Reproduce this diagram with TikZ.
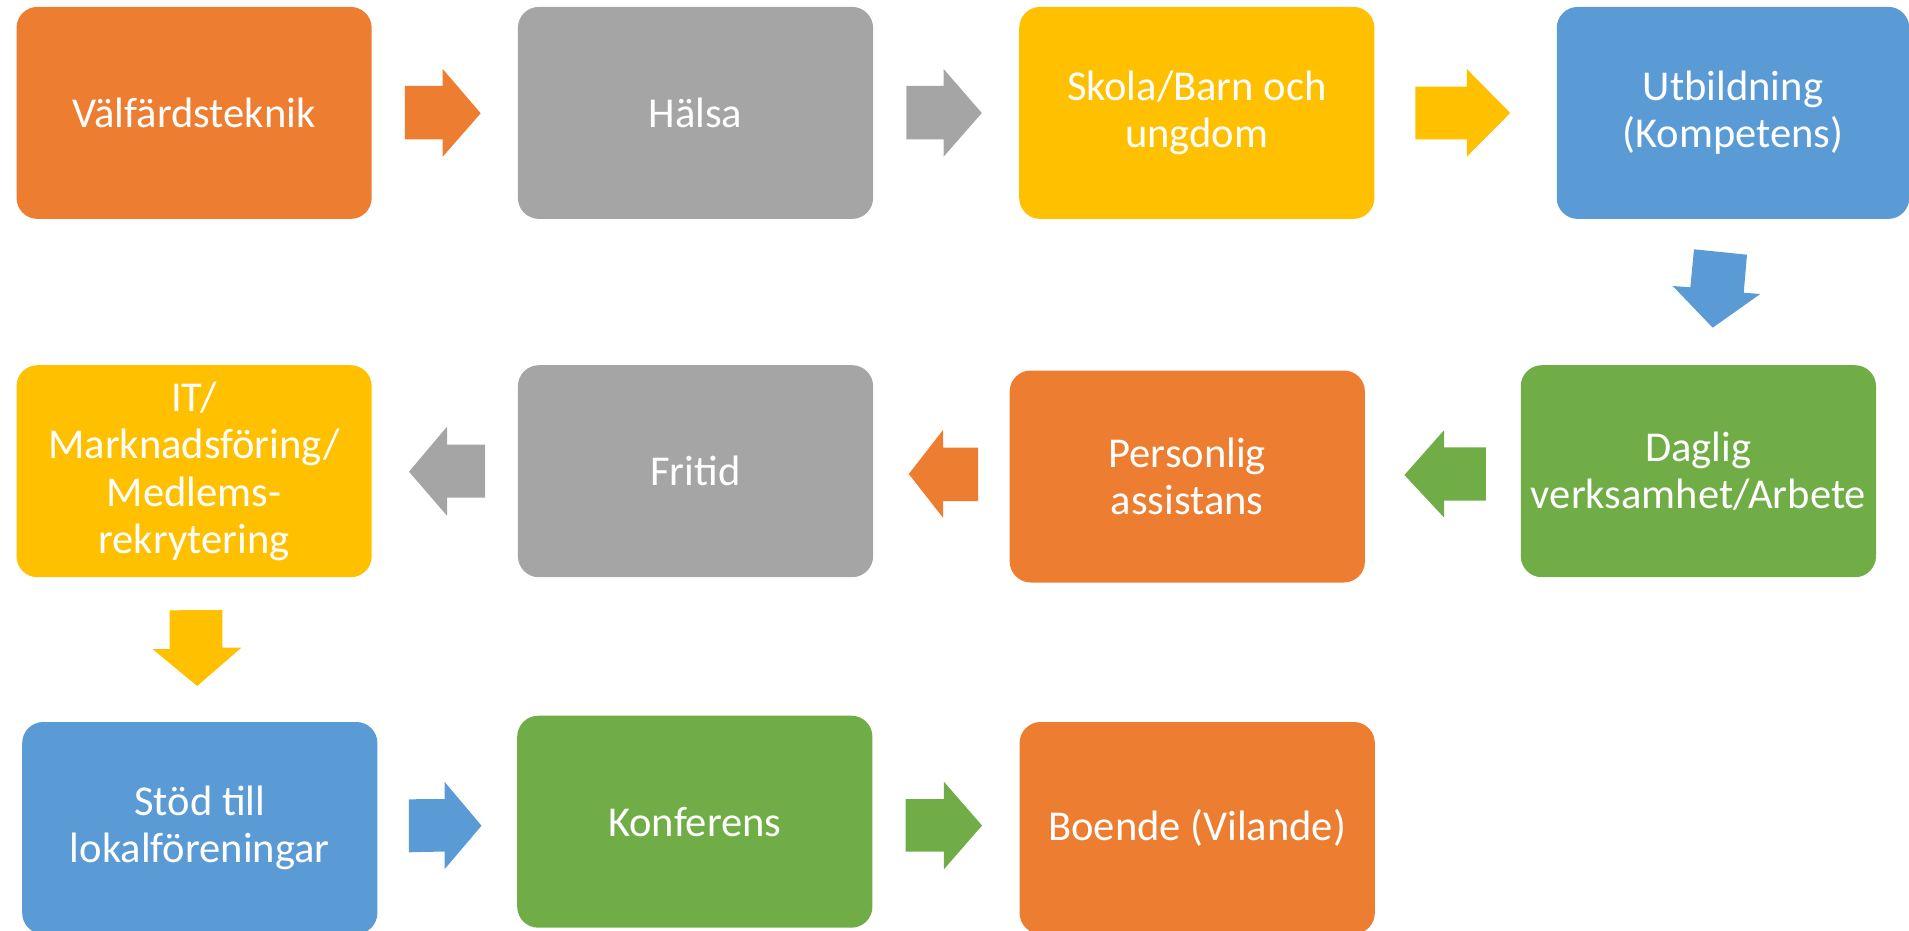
\documentclass[tikz,border=0pt]{standalone}
\usepackage{fontspec}
\setmainfont{Carlito}
\definecolor{cOrange}{HTML}{ED7D31}
\definecolor{cGray}{HTML}{A5A5A5}
\definecolor{cYellow}{HTML}{FFC000}
\definecolor{cBlue}{HTML}{5B9BD5}
\definecolor{cGreen}{HTML}{70AD47}
\tikzset{
  box/.style={rectangle, rounded corners=15.75pt, draw=none, text=white,
    minimum width=266.4pt, minimum height=159pt, inner sep=2pt, align=center,
    font=\fontsize{31.9pt}{35.6pt}\selectfont},
  blockarrow/.style={draw=none}
}
\begin{document}
\begin{tikzpicture}[x=0.75pt, y=-0.75pt]
\useasboundingbox (0,0) rectangle (1909,931);
\clip (0,0) rectangle (1909,931);
% boxes
\node[box, fill=cOrange] (b1) at (194.1,112.9) {Välfärdsteknik};
\node[box, fill=cGray]   (b2) at (695.5,112.9) {Hälsa};
\node[box, fill=cYellow] (b3) at (1196.8,112.9) {Skola/Barn och\\ungdom};
\node[box, fill=cBlue, minimum width=264.4pt] (b4) at (1733,112.9) {Utbildning\\(Kompetens)};
\node[box, fill=cGreen]  (b5) at (1698.4,471.2) {Daglig\\verksamhet/Arbete};
\node[box, fill=cOrange] (b6) at (1187.3,476.5) {Personlig\\assistans};
\node[box, fill=cGray]   (b7) at (695.5,471.2) {Fritid};
\node[box, fill=cYellow] (b8) at (194.1,471.2) {IT/\\Marknadsföring/\\Medlems-\\rekrytering};
\node[box, fill=cBlue]   (b9) at (199.8,828) {Stöd till\\lokalföreningar};
\node[box, fill=cGreen]  (b10) at (694.8,821.7) {Konferens};
\node[box, fill=cOrange] (b11) at (1197.2,828) {Boende (Vilande)};
% block arrows
\fill[cOrange] (404.8,86) -- (442.7,86) -- (442.7,69) -- (480.7,113.3) -- (442.7,156.7) -- (442.7,139.3) -- (404.8,139.3) -- cycle;
\fill[cGray] (906.3,86) -- (943.6,86) -- (943.6,69) -- (981.8,113) -- (943.6,156.7) -- (943.6,139.3) -- (906.3,139.3) -- cycle;
\fill[cYellow] (1415.4,86.7) -- (1466.8,86.7) -- (1466.8,69) -- (1510.2,113) -- (1466.8,156.7) -- (1466.8,139.3) -- (1415.4,139.3) -- cycle;
\fill[cBlue] (1694,249.3) -- (1747,254.7) -- (1743.7,292.7) -- (1760.3,294) -- (1712.7,327.7) -- (1672.7,286) -- (1690.3,287.3) -- cycle;
\fill[cGreen] (1485.8,447.3) -- (1444.2,447.3) -- (1444.2,430) -- (1404.4,475) -- (1444.2,517.7) -- (1444.2,500.7) -- (1485.8,500.7) -- cycle;
\fill[cOrange] (978.1,447.7) -- (943,447.7) -- (943,430) -- (908.8,474) -- (943,517.7) -- (943,501) -- (978.1,501) -- cycle;
\fill[cGray] (485,444.7) -- (447,444.7) -- (447,426.7) -- (409,471.7) -- (447,515.7) -- (447,497.7) -- (485,497.7) -- cycle;
\fill[cYellow] (169.6,610.3) -- (222.3,610) -- (222.3,647.7) -- (241.3,647.7) -- (197.2,686) -- (152.5,649) -- (169.6,649) -- cycle;
\fill[cBlue] (408.8,799.3) -- (444.5,799) -- (444.5,781.7) -- (481.5,825.7) -- (444.5,869.3) -- (444.5,851.5) -- (408.8,852.3) -- cycle;
\fill[cGreen] (905.6,799) -- (943.9,799) -- (943.9,781.7) -- (982,825.5) -- (943.9,869.3) -- (943.9,851.7) -- (905.6,851.7) -- cycle;
\end{tikzpicture}
\end{document}
